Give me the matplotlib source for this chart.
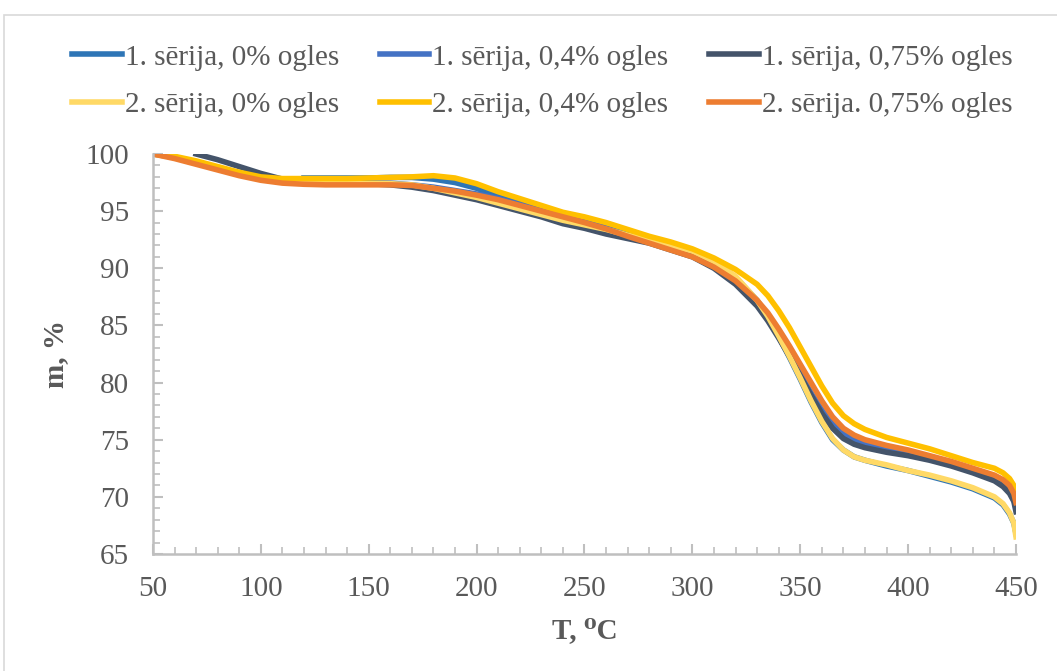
import numpy as np
import matplotlib
matplotlib.use('Agg')
import matplotlib.pyplot as plt
from matplotlib.patches import Rectangle

plt.rcParams['font.family'] = ['Liberation Serif', 'DejaVu Serif']

# temperatūra, C
T = [50, 60, 70, 80, 90, 100, 110, 120, 130, 140, 150, 160, 170, 180, 190, 200,
     210, 220, 230, 240, 250, 260, 270, 280, 290, 300, 310, 320,
     330, 335, 340, 345, 350, 355, 360, 365, 370, 375, 380,
     390, 400, 410, 420, 430, 440, 444, 447, 449, 450]
nan = np.nan

# 1. sērija
s1_0 = [nan, nan, nan, nan, nan, nan, nan, 97.9, 97.9, 97.9, 97.9, 97.95, 97.95, 97.8, 97.5, 97.0,
        96.3, 95.7, 95.1, 94.6, 94.1, 93.6, 93.1, 92.6, 92.0, 91.4, 90.5, 89.2,
        87.2, 85.8, 84.0, 82.2, 80.3, 78.3, 76.5, 75.0, 74.1, 73.5, 73.2,
        72.7, 72.3, 71.8, 71.3, 70.7, 69.9, 69.3, 68.5, 67.7, 66.8]
s1_04 = [100, 99.7, 99.3, 98.8, 98.3, 97.9, 97.6, 97.5, 97.45, 97.45, 97.45, 97.45, 97.3, 97.1, 96.8, 96.5,
         96.1, 95.6, 95.1, 94.6, 94.1, 93.6, 93.1, 92.6, 92.0, 91.3, 90.3, 88.9,
         86.9, 85.6, 84.1, 82.5, 80.8, 79.1, 77.6, 76.4, 75.5, 75.0, 74.6,
         74.1, 73.7, 73.3, 72.8, 72.2, 71.6, 71.1, 70.5, 69.8, 69.0]
s1_075 = [nan, nan, 100, 99.5, 98.9, 98.3, 97.8, 97.6, 97.5, 97.45, 97.4, 97.3, 97.1, 96.8, 96.4, 96.0,
          95.5, 95.0, 94.5, 93.9, 93.5, 93.0, 92.6, 92.2, 91.6, 91.0, 90.0, 88.6,
          86.7, 85.4, 83.9, 82.3, 80.6, 78.9, 77.3, 76.0, 75.1, 74.6, 74.3,
          73.9, 73.6, 73.2, 72.7, 72.1, 71.4, 70.9, 70.3, 69.6, 68.7]
# 2. sērija
s2_0 = [100, 99.7, 99.3, 98.8, 98.3, 97.9, 97.6, 97.5, 97.45, 97.4, 97.4, 97.4, 97.3, 97.0, 96.6, 96.2,
        95.7, 95.2, 94.7, 94.2, 93.8, 93.4, 92.9, 92.5, 92.0, 91.5, 90.6, 89.3,
        87.2, 85.8, 84.1, 82.3, 80.4, 78.4, 76.6, 75.1, 74.1, 73.5, 73.2,
        72.8, 72.3, 71.9, 71.4, 70.8, 70.0, 69.4, 68.6, 67.7, 66.5]
s2_04 = [100, 99.8, 99.4, 98.9, 98.4, 98.0, 97.85, 97.85, 97.85, 97.85, 97.9, 97.95, 98.0, 98.1, 97.9, 97.4,
         96.7, 96.1, 95.5, 94.9, 94.5, 94.0, 93.4, 92.8, 92.3, 91.7, 90.9, 89.9,
         88.6, 87.6, 86.3, 84.8, 83.1, 81.4, 79.7, 78.2, 77.1, 76.4, 75.9,
         75.2, 74.7, 74.2, 73.6, 73.0, 72.5, 72.1, 71.6, 71.0, 70.5]
s2_075 = [100, 99.6, 99.1, 98.6, 98.1, 97.7, 97.45, 97.35, 97.3, 97.3, 97.3, 97.3, 97.25, 97.0, 96.75, 96.4,
          96.0, 95.5, 95.0, 94.5, 94.0, 93.45, 92.8, 92.2, 91.6, 91.0, 90.1, 88.9,
          87.2, 86.1, 84.7, 83.2, 81.6, 80.0, 78.4, 77.0, 76.0, 75.4, 75.0,
          74.5, 74.1, 73.6, 73.1, 72.5, 71.9, 71.5, 71.0, 70.3, 69.5]

fig = plt.figure(figsize=(10.57, 6.71), dpi=100)
ax = fig.add_axes([0.1447, 0.1744, 0.8165, 0.5961])

# ārējais rāmis
fig.patches.append(Rectangle((0.0038, -0.1), 1.1, 1.0776, transform=fig.transFigure,
                             fill=False, edgecolor='#D9D9D9', linewidth=1.2))

lw = 4
ax.plot(T, s1_0, color='#2E75B6', lw=lw, label='1. sērija, 0% ogles')
ax.plot(T, s1_04, color='#4472C4', lw=lw, label='1. sērija, 0,4% ogles')
ax.plot(T, s1_075, color='#44546A', lw=lw, label='1. sērija, 0,75% ogles')
ax.plot(T, s2_0, color='#FFD966', lw=lw, label='2. sērija, 0% ogles')
ax.plot(T, s2_04, color='#FFC000', lw=lw, label='2. sērija, 0,4% ogles')
ax.plot(T, s2_075, color='#ED7D31', lw=lw, label='2. sērija. 0,75% ogles')

ax.set_xlim(50, 450)
ax.set_ylim(65, 100)
ax.set_xticks(range(50, 451, 50))
ax.set_xticks(range(50, 451, 10), minor=True)
ax.set_yticks(range(65, 101, 5))
ax.set_yticks(range(65, 101, 1), minor=True)

for s in ['top', 'right']:
    ax.spines[s].set_visible(False)
for s in ['left', 'bottom']:
    ax.spines[s].set_color('#BFBFBF')
    ax.spines[s].set_linewidth(1.8)
ax.tick_params(which='major', direction='in', length=7, width=1.5, color='#BFBFBF',
               labelsize=21, labelcolor='#595959')
ax.tick_params(axis='y', which='major', pad=17)
ax.tick_params(axis='x', which='major', pad=16)
ax.tick_params(which='minor', direction='in', length=5, width=1.2, color='#BFBFBF')

ax.set_xlabel('T, ⁰C', fontsize=21, fontweight='bold', color='#595959', labelpad=11)
ax.set_ylabel('m, %', fontsize=21, fontweight='bold', color='#595959', labelpad=12)

h, l = ax.get_legend_handles_labels()
order = [0, 3, 1, 4, 2, 5]
fig.legend([h[i] for i in order], [l[i] for i in order], ncol=3, loc='center',
           bbox_to_anchor=(0.513, 0.879), frameon=False, fontsize=21,
           labelcolor='#595959', handlelength=1.7, handletextpad=0.1,
           columnspacing=1.4, labelspacing=0.72)

fig.savefig('out.png', dpi=100)
